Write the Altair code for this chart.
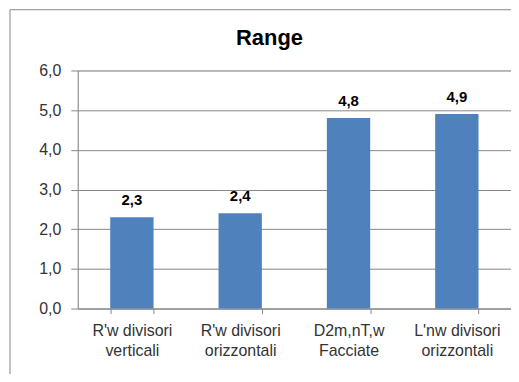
import altair as alt
import pandas as pd

categories = ["R'w divisori\nverticali", "R'w divisori\norizzontali", "D2m,nT,w\nFacciate", "L'nw divisori\norizzontali"]
values = [2.3, 2.4, 4.8, 4.9]
y_ticks = [0, 1, 2, 3, 4, 5, 6]

df = pd.DataFrame({"cat": categories, "val": values})
FONT = "Liberation Sans"

X = alt.X("cat:N", sort=None, title=None,
          scale=alt.Scale(paddingInner=0.6, paddingOuter=0.3),
          axis=alt.Axis(labelExpr="split(datum.label, '\\n')", labelAngle=0,
                        tickBand="extent", tickSize=5, tickColor="#868686",
                        domainColor="#868686", labelFont=FONT, labelFontSize=16,
                        labelColor="#333333", labelPadding=9, labelLineHeight=20,
                        grid=False))
Y = alt.Y("val:Q", title=None,
          scale=alt.Scale(domain=[0, 6], nice=False),
          axis=alt.Axis(values=y_ticks, labelExpr="replace(format(datum.value, '.1f'), '.', ',')",
                        gridColor="#868686", domainColor="#868686", tickColor="#868686",
                        tickSize=7, labelFont=FONT, labelFontSize=16, labelColor="#333333",
                        labelPadding=10, labelOverlap=False))

base = alt.Chart(df)

bars = base.mark_bar(color="#4F81BD").encode(x=X, y=Y)

text = base.transform_calculate(
    lbl="replace(format(datum.val, '.1f'), '.', ',')"
).mark_text(font=FONT, fontSize=15, fontWeight="bold", color="#000000",
            baseline="alphabetic", dy=-12).encode(
    x=X, y=Y, text="lbl:N",
)

frame_left = alt.Chart(pd.DataFrame({"a": [0]})).mark_rule(color="#868686").encode(
    x=alt.value(-68), y=alt.value(-61), y2=alt.value(320))
frame_top = alt.Chart(pd.DataFrame({"a": [0]})).mark_rule(color="#868686").encode(
    x=alt.value(-68), x2=alt.value(460), y=alt.value(-61))

chart = alt.layer(frame_left, frame_top, bars, text).properties(
    width=435, height=239,
    title=alt.TitleParams("Range", font=FONT, fontSize=22, fontWeight="bold",
                          color="#000000", dx=-25, offset=-41),
    autosize=alt.AutoSizeParams(type="none"),
    padding={"left": 70, "top": 62, "right": 0, "bottom": 65},
).configure_view(stroke=None).configure(background="white")

chart.save("out.html", embed_options={"renderer": "svg", "actions": False})
